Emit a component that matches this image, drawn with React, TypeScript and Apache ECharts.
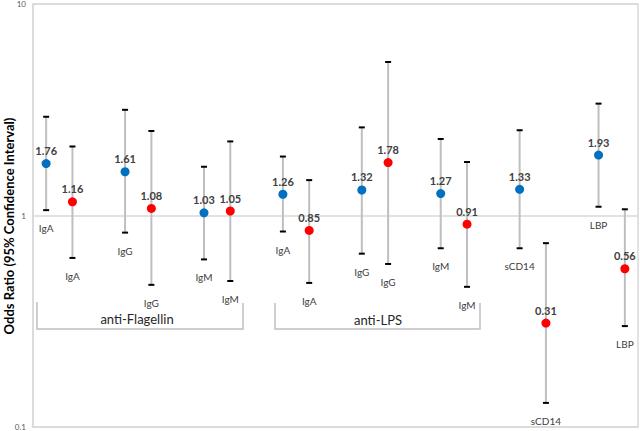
import React, { useEffect, useRef } from "react";
import * as echarts from "echarts";

// Marker labels (one per pair member)
const markerLabels = ["IgA", "IgG", "IgM", "IgA", "IgG", "IgM", "sCD14", "LBP"];

// Blue series (odds ratio with 95% CI)
const blueOR = [1.76, 1.61, 1.03, 1.26, 1.32, 1.27, 1.33, 1.93];
const blueLow = [1.06, 0.83, 0.62, 0.84, 0.66, 0.7, 0.7, 1.1];
const blueHigh = [2.93, 3.16, 1.7, 1.9, 2.61, 2.3, 2.53, 3.38];

// Red series (odds ratio with 95% CI)
const redOR = [1.16, 1.08, 1.05, 0.85, 1.78, 0.91, 0.31, 0.56];
const redLow = [0.63, 0.47, 0.49, 0.48, 0.59, 0.46, 0.13, 0.3];
const redHigh = [2.12, 2.51, 2.24, 1.47, 5.32, 1.79, 0.74, 1.07];

// Y tick values
const yTicks = [0.1, 1, 10];

const FONT = "Lato, 'Open Sans', sans-serif";
const BLUE = "#0070C0";
const RED = "#FF0000";

// slot position along the hidden x axis: pairs separated by one empty slot
const slotX = (i: number, second: boolean) => i * 3 + (second ? 1 : 0) + 0.5;

export default function App() {
  const ref = useRef<HTMLDivElement>(null);

  useEffect(() => {
    if (!ref.current) return;
    const chart = echarts.init(ref.current, null, { renderer: "svg" });

    const barData: any[] = [];
    blueOR.forEach((_, i) => {
      barData.push([slotX(i, false), blueLow[i], blueHigh[i], i]);
      barData.push([slotX(i, true), redLow[i], redHigh[i], i]);
    });
    const blueData = blueOR.map((v, i) => [slotX(i, false), v]);
    const redData = redOR.map((v, i) => [slotX(i, true), v]);

    const valueLabel = {
      show: true,
      position: "top" as const,
      distance: 3,
      fontFamily: FONT,
      fontSize: 11,
      fontWeight: "bold" as const,
      color: "#404040",
      opacity: 1,
      formatter: (p: any) => p.value[1].toFixed(2),
    };

    const bracketStyle = { stroke: "#bfbfbf", lineWidth: 1.5, fill: "none" };

    chart.setOption({
      animation: false,
      grid: {
        left: 33,
        right: 2,
        top: 3,
        bottom: 3,
        show: true,
        borderColor: "#d9d9d9",
        borderWidth: 1.5,
      },
      xAxis: {
        type: "value",
        min: 0,
        max: 23,
        show: false,
      },
      yAxis: {
        type: "log",
        logBase: 10,
        min: yTicks[0],
        max: yTicks[yTicks.length - 1],
        axisLine: { show: true, lineStyle: { color: "#d9d9d9", width: 1.5 } },
        axisTick: { show: false },
        axisLabel: {
          fontFamily: FONT,
          fontSize: 8,
          color: "#595959",
          margin: 7,
          formatter: (v: number) => String(v),
        },
        splitLine: { show: true, lineStyle: { color: "#d9d9d9", width: 1.5 } },
      },
      series: [
        {
          type: "custom",
          data: barData,
          z: 1,
          renderItem: (params: any, api: any) => {
            const x = api.value(0);
            const lo = api.value(1);
            const hi = api.value(2);
            const idx = api.value(3);
            const top = api.coord([x, hi]);
            const bot = api.coord([x, lo]);
            return {
              type: "group",
              children: [
                {
                  type: "line",
                  shape: { x1: top[0], y1: top[1], x2: bot[0], y2: bot[1] },
                  style: { stroke: "#bfbfbf", lineWidth: 2 },
                },
                {
                  type: "line",
                  shape: { x1: top[0] - 3, y1: top[1], x2: top[0] + 3, y2: top[1] },
                  style: { stroke: "#000000", lineWidth: 2 },
                },
                {
                  type: "line",
                  shape: { x1: bot[0] - 3, y1: bot[1], x2: bot[0] + 3, y2: bot[1] },
                  style: { stroke: "#000000", lineWidth: 2 },
                },
                {
                  type: "text",
                  x: bot[0],
                  y: bot[1] + 18,
                  style: {
                    text: markerLabels[idx],
                    fill: "#404040",
                    fontFamily: FONT,
                    fontSize: 10,
                    align: "center",
                    verticalAlign: "middle",
                  },
                },
              ],
            };
          },
        },
        {
          type: "scatter",
          data: blueData,
          symbolSize: 9,
          itemStyle: { color: BLUE, opacity: 1 },
          label: valueLabel,
          z: 3,
        },
        {
          type: "scatter",
          data: redData,
          symbolSize: 9,
          itemStyle: { color: RED, opacity: 1 },
          label: valueLabel,
          z: 3,
        },
      ],
      graphic: [
        {
          type: "text",
          x: 9,
          y: 226,
          rotation: Math.PI / 2,
          style: {
            text: "Odds Ratio (95% Confidence Interval)",
            fontFamily: FONT,
            fontSize: 13,
            fontWeight: "bold",
            fill: "#000000",
            align: "center",
            verticalAlign: "middle",
          },
        },
        {
          type: "polyline",
          shape: { points: [[37, 302], [37, 329], [243, 329], [243, 303]] },
          style: bracketStyle,
        },
        {
          type: "text",
          x: 137,
          y: 319,
          style: {
            text: "anti-Flagellin",
            fontFamily: FONT,
            fontSize: 13,
            fill: "#262626",
            align: "center",
            verticalAlign: "middle",
          },
        },
        {
          type: "polyline",
          shape: { points: [[275, 303], [275, 329], [480, 329], [480, 303]] },
          style: bracketStyle,
        },
        {
          type: "text",
          x: 378,
          y: 320,
          style: {
            text: "anti-LPS",
            fontFamily: FONT,
            fontSize: 13,
            fill: "#262626",
            align: "center",
            verticalAlign: "middle",
          },
        },
      ],
    });

    return () => chart.dispose();
  }, []);

  return (
    <div
      ref={ref}
      style={{ position: "absolute", left: 0, top: 0, width: 640, height: 431 }}
    />
  );
}
